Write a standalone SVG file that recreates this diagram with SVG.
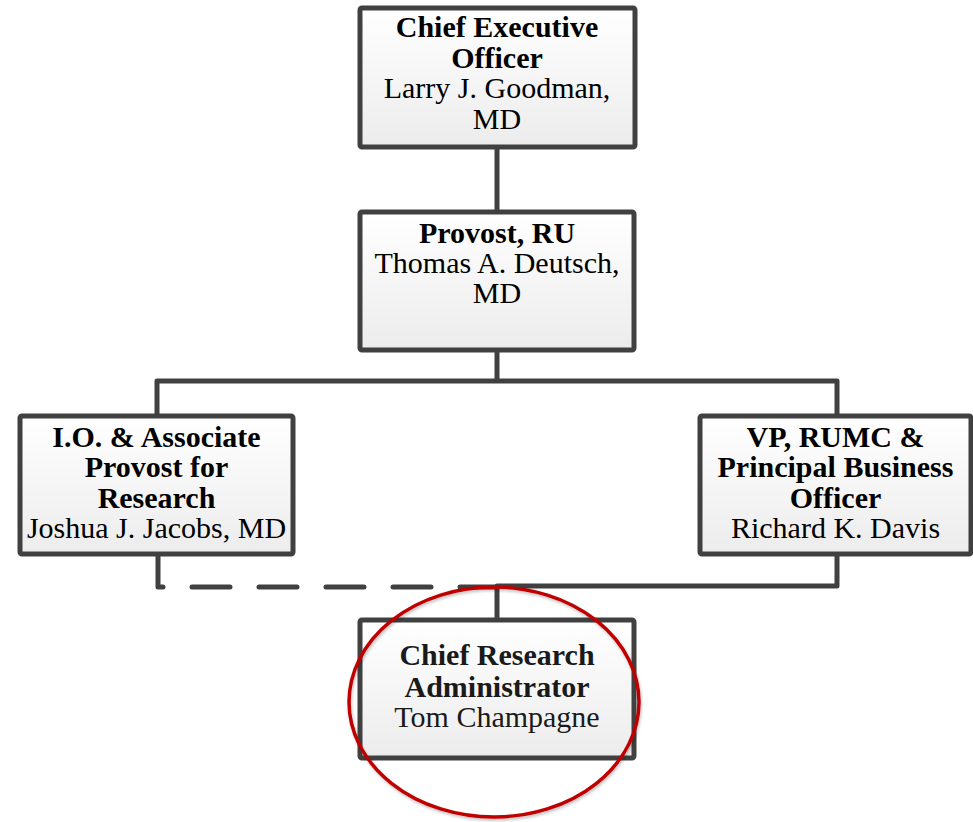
<svg xmlns="http://www.w3.org/2000/svg" width="973" height="822" viewBox="0 0 973 822">
  <defs>
    <linearGradient id="boxFill" x1="0" y1="0" x2="0" y2="1">
      <stop offset="0" stop-color="#ffffff"/>
      <stop offset="1" stop-color="#ececec"/>
    </linearGradient>
    <filter id="ringShadow" x="-10%" y="-10%" width="120%" height="120%">
      <feGaussianBlur in="SourceAlpha" stdDeviation="1.5"/>
      <feOffset dx="1" dy="2" result="b"/>
      <feComponentTransfer><feFuncA type="linear" slope="0.25"/></feComponentTransfer>
      <feMerge><feMergeNode/><feMergeNode in="SourceGraphic"/></feMerge>
    </filter>
  </defs>
  <style>
    .box { fill: url(#boxFill); stroke: #404040; stroke-width: 5; }
    .line { fill: none; stroke: #404040; stroke-width: 5; stroke-linejoin: round; }
    .dash { fill: none; stroke: #404040; stroke-width: 5; stroke-linecap: round; stroke-linejoin: round; stroke-dasharray: 38 29; }
    text { font-family: "Liberation Serif", "Times New Roman", serif; font-size: 30px; fill: #000; text-anchor: middle; }
    .b { font-weight: bold; }
    .soft text { fill: #1a1a1a; }
  </style>

  <rect width="973" height="822" fill="#ffffff"/>

  <!-- reporting lines -->
  <g id="connectors">
    <path class="line" d="M497 147 V212"/>
    <path class="line" d="M497 350 V381 M157 416 V381 H837 V416"/>
    <path class="line" d="M837 554 V586 H497 V620"/>
    <path class="dash" d="M158 554 V587 H497"/>
  </g>

  <g id="ceo">
    <rect class="box" x="360" y="8" width="275" height="139" rx="2"/>
    <text x="497" y="37" class="b">Chief Executive</text>
    <text x="497" y="68" class="b">Officer</text>
    <text x="497" y="98">Larry J. Goodman,</text>
    <text x="497" y="129">MD</text>
  </g>

  <g id="provost">
    <rect class="box" x="360" y="212" width="274" height="138" rx="2"/>
    <text x="497" y="243" class="b">Provost, RU</text>
    <text x="497" y="273">Thomas A. Deutsch,</text>
    <text x="497" y="303">MD</text>
  </g>

  <g id="io-associate-provost">
    <rect class="box" x="20" y="416" width="273" height="138" rx="2"/>
    <text x="156.5" y="447" class="b">I.O. &amp; Associate</text>
    <text x="156.5" y="477" class="b">Provost for</text>
    <text x="156.5" y="508" class="b">Research</text>
    <text x="156.5" y="538">Joshua J. Jacobs, MD</text>
  </g>

  <g id="vp-rumc">
    <rect class="box" x="700" y="416" width="271" height="138" rx="2"/>
    <text x="835.5" y="447" class="b">VP, RUMC &amp;</text>
    <text x="835.5" y="477" class="b">Principal Business</text>
    <text x="835.5" y="508" class="b">Officer</text>
    <text x="835.5" y="538">Richard K. Davis</text>
  </g>

  <g id="chief-research-administrator" class="soft">
    <rect class="box" x="360" y="620" width="274" height="138" rx="2"/>
    <text x="497" y="665" class="b">Chief Research</text>
    <text x="497" y="697" class="b">Administrator</text>
    <text x="497" y="727">Tom Champagne</text>
  </g>

  <!-- highlight ring -->
  <g id="highlight">
    <ellipse cx="494" cy="702" rx="145" ry="115" fill="none" stroke="#c00000" stroke-width="3.5" filter="url(#ringShadow)"/>
  </g>
</svg>
